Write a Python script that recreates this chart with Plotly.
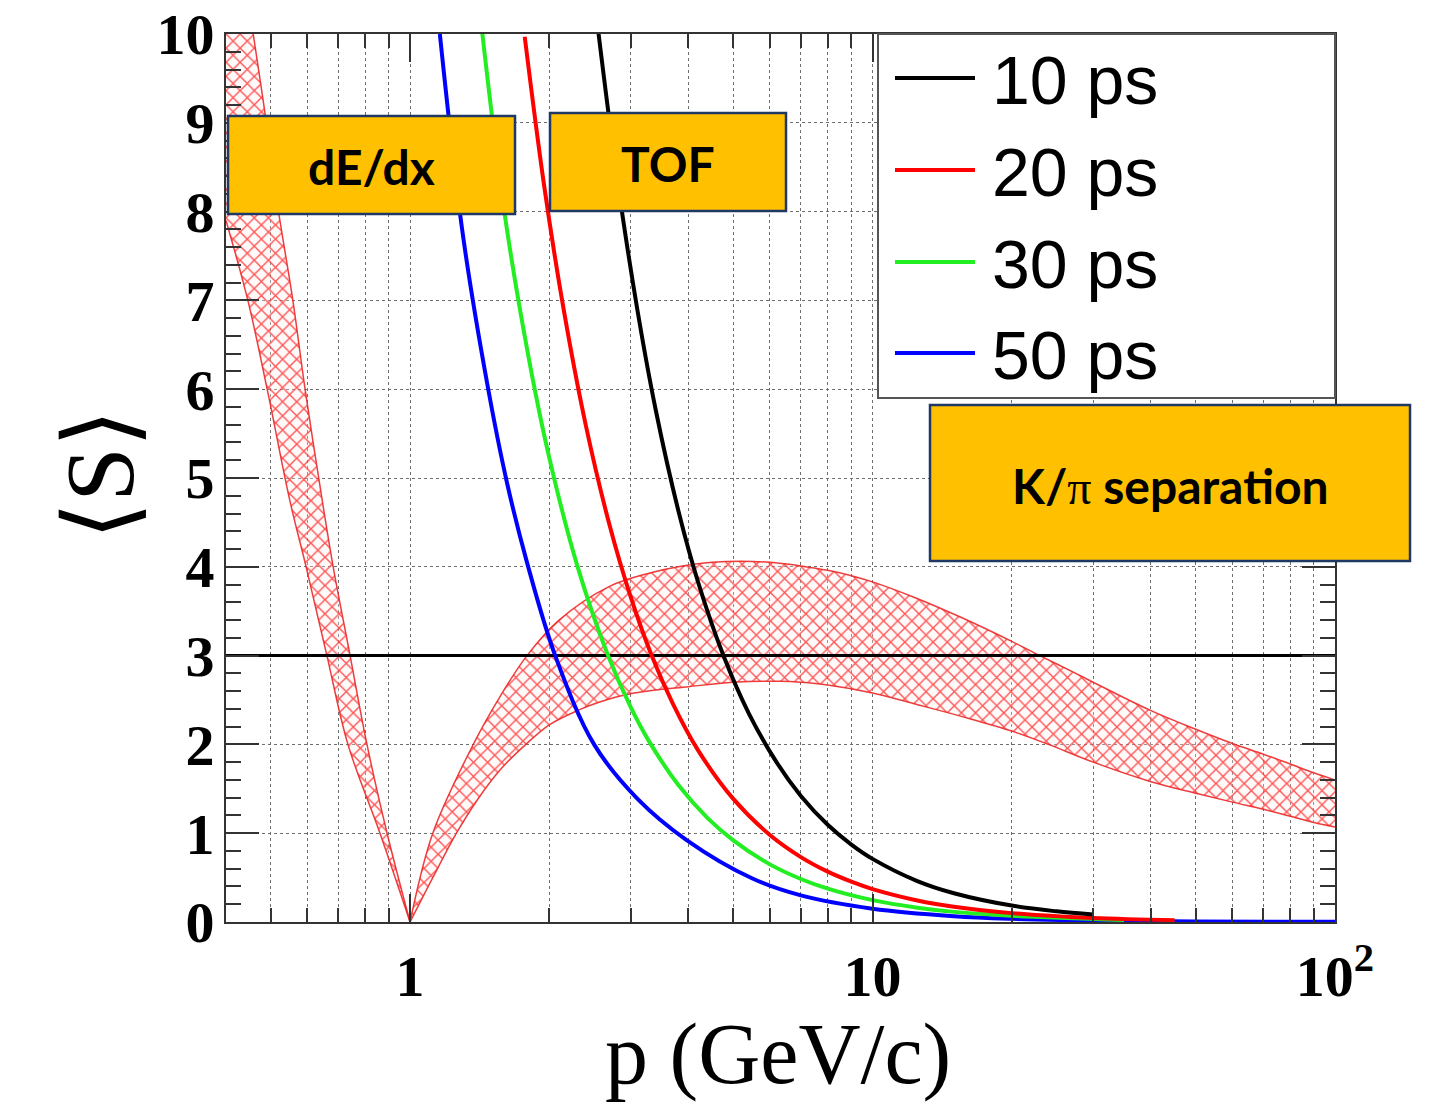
import plotly.graph_objects as go

# ---------------- data ----------------
# TOF K/pi separation curves (p in GeV/c, S in sigma)
p_10ps = [2.55, 2.8, 3.1, 3.4, 3.8, 4.2, 4.76, 5.4, 6.2, 7, 8, 9, 10, 12.5, 15, 20, 25, 30]
s_10ps = [10.05, 8.4, 6.9, 5.76, 4.64, 3.82, 3.0, 2.35, 1.80, 1.42, 1.095, 0.872, 0.711, 0.461, 0.324, 0.185, 0.12, 0.084]

p_20ps = [1.77, 1.95, 2.15, 2.4, 2.7, 3.0, 3.33, 3.7, 4.2, 5, 6, 7, 8, 9, 10, 12.5, 15, 20, 30, 45]
s_20ps = [9.97, 8.29, 6.89, 5.59, 4.47, 3.66, 3.0, 2.46, 1.93, 1.386, 0.98, 0.731, 0.567, 0.454, 0.371, 0.243, 0.172, 0.10, 0.046, 0.021]

p_30ps = [1.43, 1.6, 1.8, 2.0, 2.3, 2.68, 3.0, 3.3, 3.8, 4.4, 5, 6, 7, 8, 10, 12.5, 15, 20, 35]
s_30ps = [10.05, 7.99, 6.39, 5.23, 4.01, 3.0, 2.42, 2.02, 1.545, 1.17, 0.92, 0.649, 0.484, 0.375, 0.246, 0.161, 0.114, 0.07, 0.023]

p_50ps = [1.16, 1.3, 1.47, 1.62, 1.79, 2.06, 2.5, 3.1, 3.97, 5.5, 7, 10, 15, 20, 30, 50, 100]
s_50ps = [10.0, 7.75, 6.05, 4.95, 4.05, 3.0, 2.0, 1.39, 0.92, 0.49, 0.30, 0.15, 0.066, 0.036, 0.016, 0.006, 0.002]

# dE/dx band, low-momentum branch (p < 1): upper and lower edges
dedx_lo_hi_p = [0.4, 0.458, 0.486, 0.516, 0.558, 0.593, 0.648, 0.682, 0.742, 0.807, 0.892, 1.0]
dedx_lo_hi_s = [12.0, 10.0, 9.1, 8.1, 7.0, 6.0, 4.7, 4.0, 3.0, 2.0, 1.0, 0.0]
dedx_lo_lo_p = [0.4, 0.446, 0.491, 0.55, 0.596, 0.661, 0.734, 0.861, 1.0]
dedx_lo_lo_s = [7.9, 7.0, 6.0, 4.74, 4.0, 3.0, 2.0, 1.0, 0.0]

# dE/dx band, relativistic-rise branch (p > 1): upper and lower edges
dedx_hi_hi_p = [1.0, 1.12, 1.37, 1.57, 1.79, 2.1, 2.7, 3.3, 3.8, 4.5, 5.5, 6.3, 7, 8, 9, 10,
                12.25, 15.7, 20, 23, 28, 30, 40, 50, 60, 70, 80, 90, 100]
dedx_hi_hi_s = [0.0, 1.0, 2.0, 2.55, 3.0, 3.4, 3.78, 3.93, 4.0, 4.05, 4.06, 4.04, 4.01, 3.96, 3.90, 3.83,
                3.66, 3.42, 3.16, 3.0, 2.78, 2.70, 2.38, 2.17, 2.01, 1.89, 1.78, 1.68, 1.60]
dedx_hi_lo_p = [1.0, 1.12, 1.26, 1.4, 1.57, 1.78, 2.0, 2.3, 2.58, 3.0, 4.0, 5.0, 6.3, 7, 8, 10, 12.25,
                15.7, 20, 24, 30, 40, 50, 60, 70, 80, 90, 100]
dedx_hi_lo_s = [0.0, 0.5, 1.0, 1.38, 1.72, 2.0, 2.22, 2.38, 2.48, 2.57, 2.65, 2.70, 2.71, 2.70, 2.67, 2.58,
                2.46, 2.31, 2.15, 2.0, 1.80, 1.58, 1.45, 1.35, 1.27, 1.19, 1.12, 1.07]

threshold_p = [0.4, 100]
threshold_s = [3, 3]

legend_labels = ["10 ps", "20 ps", "30 ps", "50 ps"]
curve_colors = ["#000000", "#ff0000", "#22ee22", "#0000ff"]

x_major_vals = [1, 10, 100]
x_major_text = ["1", "10", "10<sup>2</sup>"]
x_minor_vals = [0.5, 0.6, 0.7, 0.8, 0.9, 2, 3, 4, 5, 6, 7, 8, 9, 20, 30, 40, 50, 60, 70, 80, 90]

# ---------------- figure ----------------
W, H = 1435, 1106
L, R, T, B = 226, 1335, 34, 922


def fx(px):
    return (px - L) / (R - L)


def fy(py):
    return (B - py) / (B - T)


fig = go.Figure()

hatch = dict(shape="x", fgcolor="#ff2a2a", fgopacity=0.8, size=10, solidity=0.26,
             bgcolor="rgba(255,240,240,0.3)")
edge = dict(color="rgba(235,40,40,0.9)", width=1.5, shape="spline", smoothing=1.0)
for hp, hs, lp, ls in [(dedx_lo_hi_p, dedx_lo_hi_s, dedx_lo_lo_p, dedx_lo_lo_s),
                       (dedx_hi_hi_p, dedx_hi_hi_s, dedx_hi_lo_p, dedx_hi_lo_s)]:
    fig.add_trace(go.Scatter(x=lp, y=ls, mode="lines", line=edge, showlegend=False, hoverinfo="skip"))
    fig.add_trace(go.Scatter(x=hp, y=hs, mode="lines", line=edge, fill="tonexty",
                             fillcolor="rgba(255,240,240,0.3)", fillpattern=hatch,
                             showlegend=False, hoverinfo="skip"))

fig.add_trace(go.Scatter(x=threshold_p, y=threshold_s, mode="lines",
                         line=dict(color="black", width=3), showlegend=False))

for p, s, c in [(p_50ps, s_50ps, curve_colors[3]), (p_30ps, s_30ps, curve_colors[2]),
                (p_20ps, s_20ps, curve_colors[1]), (p_10ps, s_10ps, curve_colors[0])]:
    fig.add_trace(go.Scatter(x=p, y=s, mode="lines",
                             line=dict(color=c, width=4, shape="spline", smoothing=1.0),
                             showlegend=False))

tickfont = dict(family="Liberation Serif", size=58, color="black", weight="bold")
grid = dict(showgrid=True, gridcolor="#6e6e6e", griddash="dot", gridwidth=1)

fig.update_xaxes(type="log", range=[-0.39794, 2], tickmode="array", tickvals=x_major_vals,
                 ticktext=x_major_text, ticks="inside", ticklen=28, tickwidth=2, tickcolor="#333",
                 showline=True, linecolor="#333", linewidth=2, mirror="allticks",
                 tickfont=tickfont, ticklabelstandoff=2, automargin=False, zeroline=False,
                 minor=dict(tickmode="array", tickvals=x_minor_vals, ticks="inside", ticklen=14,
                            tickwidth=2, tickcolor="#333", showgrid=True, gridcolor="#6e6e6e",
                            griddash="dot", gridwidth=1),
                 **grid)
fig.update_yaxes(range=[0, 10], dtick=1, tick0=0, ticks="inside", ticklen=33, tickwidth=2,
                 tickcolor="#333", showline=True, linecolor="#333", linewidth=2, mirror="allticks",
                 tickfont=tickfont, ticklabelstandoff=-2, automargin=False, zeroline=False,
                 minor=dict(dtick=0.2, ticks="inside", ticklen=15, tickwidth=2, tickcolor="#333",
                            showgrid=False),
                 **grid)

shapes = []
annotations = []

# legend box drawn by hand
shapes.append(dict(type="rect", xref="paper", yref="paper", x0=fx(878), x1=fx(1335), y0=fy(398), y1=fy(34),
                   fillcolor="white", line=dict(color="#555", width=2), layer="above"))
row_y = [78, 170, 262, 353]
for lab, col, ry in zip(legend_labels, curve_colors, row_y):
    shapes.append(dict(type="line", xref="paper", yref="paper", x0=fx(895), x1=fx(975), y0=fy(ry), y1=fy(ry),
                       line=dict(color=col, width=4), layer="above"))
    annotations.append(dict(xref="paper", yref="paper", x=fx(990), y=fy(ry + 2), text=lab, showarrow=False,
                            xanchor="left", yanchor="middle",
                            font=dict(family="Liberation Sans", size=68, color="black")))

# labelled boxes
boxes = [("dE/dx", 228, 515, 116, 214), ("TOF", 550, 786, 113, 211),
         ("K/<span style='font-family:Liberation Serif;font-weight:normal'>π</span> separation", 930, 1410, 405, 561)]
for txt, x0, x1, y0, y1 in boxes:
    shapes.append(dict(type="rect", xref="paper", yref="paper", x0=fx(x0), x1=fx(x1), y0=fy(y1), y1=fy(y0),
                       fillcolor="#FFC000", line=dict(color="#1F3864", width=2.5), layer="above"))
    annotations.append(dict(xref="paper", yref="paper", x=fx((x0 + x1) / 2), y=fy((y0 + y1) / 2 + 2),
                            text=txt, showarrow=False, xanchor="center", yanchor="middle",
                            font=dict(family="Lato", size=48, color="black", weight="bold")))

# axis titles
annotations.append(dict(xref="paper", yref="paper", x=fx(778), y=fy(1054), text="p (GeV/c)", showarrow=False,
                        xanchor="center", yanchor="middle",
                        font=dict(family="Liberation Serif", size=86, color="black")))
annotations.append(dict(xref="paper", yref="paper", x=fx(100), y=fy(475), text="⟨S⟩", showarrow=False,
                        xanchor="center", yanchor="middle", textangle=-90,
                        font=dict(family="Liberation Serif, DejaVu Serif", size=98, color="black")))

fig.update_layout(width=W, height=H, autosize=False,
                  margin=dict(l=L, r=W - R, t=T, b=H - B, pad=0),
                  plot_bgcolor="white", paper_bgcolor="white",
                  shapes=shapes, annotations=annotations, showlegend=False)

fig.write_html("out.html")
